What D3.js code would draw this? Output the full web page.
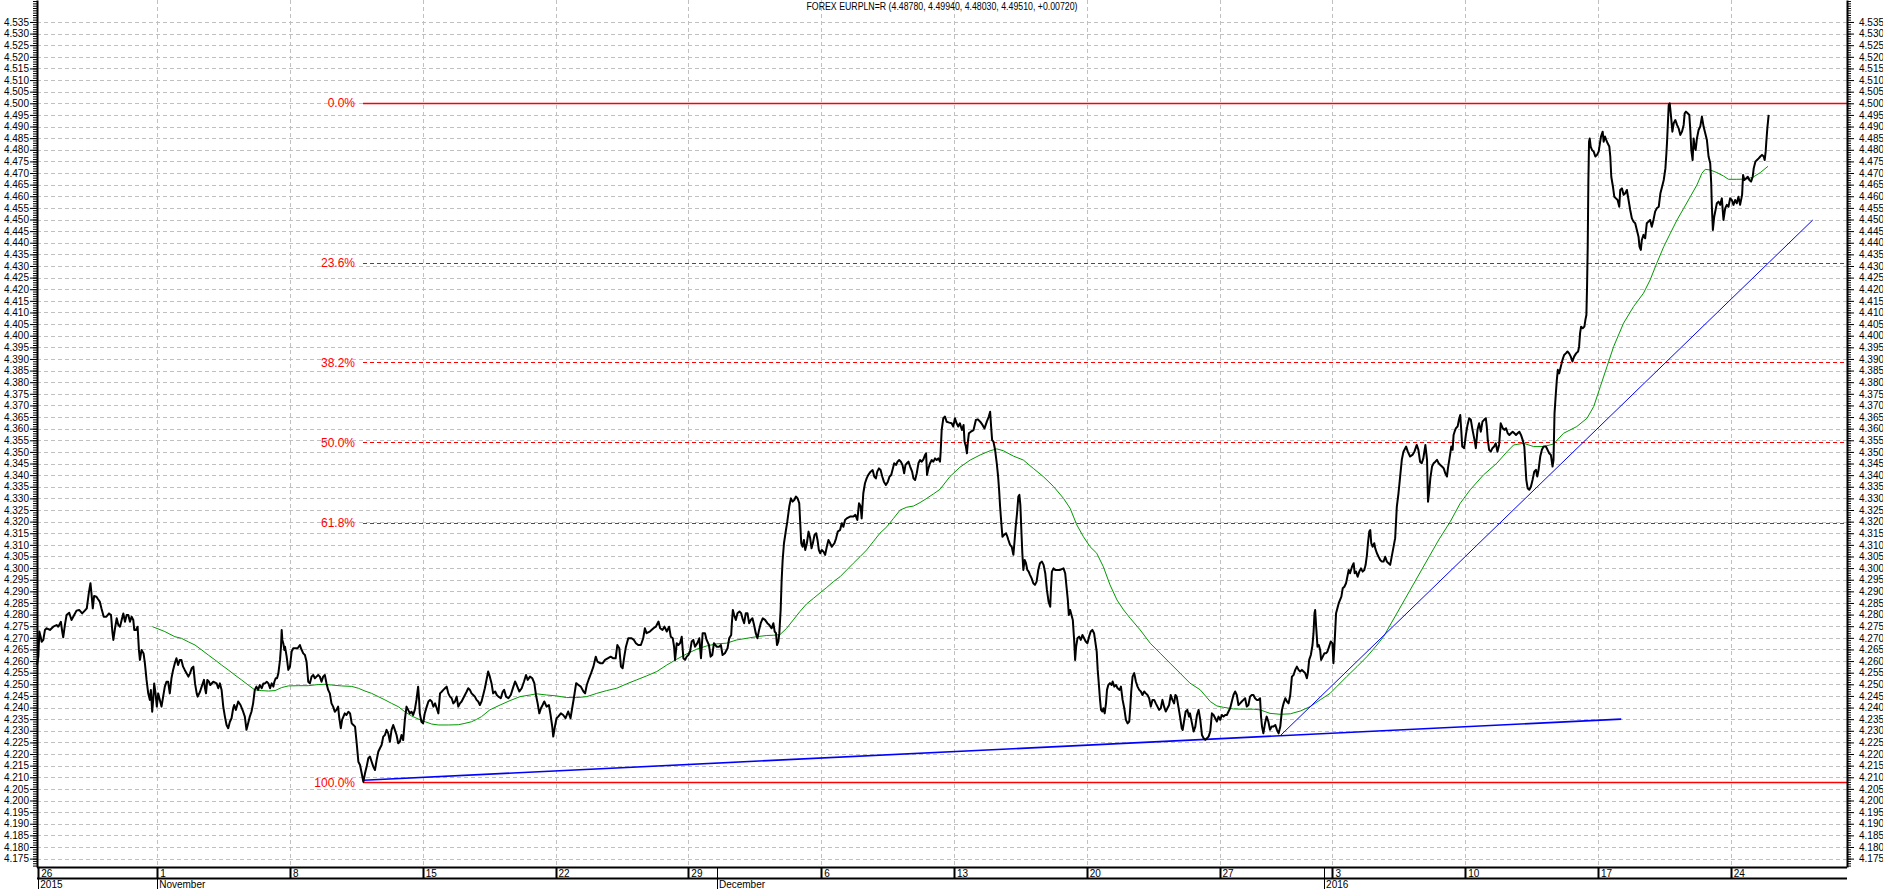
<!DOCTYPE html>
<html>
<head>
<meta charset="utf-8">
<script src="https://cdn.jsdelivr.net/npm/d3@7"></script>
<style>
  body { margin: 0; background: #fff; }
  svg { display: block; }
  text { font-family: Arial, "Liberation Sans", sans-serif; }
</style>
</head>
<body>
<div id="chart"></div>
<script>
// x values are in 1/8-day trading bars, 0 = week boundary of 1 Nov 2015

var titleText = "FOREX EURPLN=R (4.48780, 4.49940, 4.48030, 4.49510, +0.00720)";

// date axis
var dayTicks  = [-35.8, 0, 40, 80, 120, 160, 200, 240, 280, 320, 354, 394, 434, 474];
var dayLabels = ["26", "1", "8", "15", "22", "29", "6", "13", "20", "27", "3", "10", "17", "24"];
var monthTicks  = [-35.8, 0, 168.6, 351.5];
var monthLabels = ["2015", "November", "December", "2016"];

// price axis
var yMajor = d3.range(4175, 4536, 5).map(function(d) { return d / 1000; });
var yMinor = d3.range(4172, 4545, 1).map(function(d) { return d / 1000; });

// fibonacci retracement
var fibHigh = 4.5003, fibLow = 4.2078, fibStart = 62.0;
var fibRatios = [0, 0.236, 0.382, 0.5, 0.618, 1];
var fibLabels = ["0.0%", "23.6%", "38.2%", "50.0%", "61.8%", "100.0%"];

// blue trend lines [bar, value] -> [bar, value]
var trendLow   = [[62.1, 4.2087], [441.0, 4.2350]];
var trendSteep = [[338.3, 4.2279], [498.7, 4.4498]];

// EURPLN close
var priceData = [
 [-36.2,4.2583],[-35.8,4.2619],[-35.5,4.2727],[-35.1,4.2705],[-34.8,4.2683],[-34.3,4.2691],[-33.8,4.2734],[-33.3,4.2741],[-32.3,4.2734],[-31.3,4.2748],
 [-30.3,4.2755],[-29.8,4.2748],[-29.0,4.2769],[-28.6,4.2727],[-28.3,4.2702],[-27.8,4.2755],[-27.3,4.2798],[-26.5,4.2808],[-25.8,4.2777],[-25.0,4.2798],
 [-24.3,4.2817],[-23.5,4.2820],[-22.6,4.2805],[-21.8,4.2817],[-21.2,4.2827],[-20.6,4.2892],[-20.1,4.2935],[-19.8,4.2892],[-19.4,4.2827],[-19.0,4.2880],
 [-18.3,4.2877],[-17.8,4.2866],[-17.3,4.2856],[-16.8,4.2827],[-16.1,4.2791],[-15.3,4.2791],[-14.5,4.2805],[-13.9,4.2798],[-13.5,4.2727],[-13.2,4.2691],
 [-12.7,4.2741],[-12.2,4.2784],[-11.7,4.2755],[-11.2,4.2748],[-10.7,4.2777],[-10.2,4.2805],[-9.7,4.2769],[-9.2,4.2798],[-8.7,4.2798],[-8.2,4.2769],
 [-7.7,4.2791],[-7.2,4.2777],[-6.9,4.2734],[-6.4,4.2734],[-5.9,4.2748],[-5.5,4.2648],[-5.2,4.2605],[-4.7,4.2648],[-4.1,4.2633],[-3.7,4.2590],
 [-3.2,4.2519],[-2.7,4.2461],[-2.2,4.2433],[-1.9,4.2476],[-1.5,4.2382],[-1.2,4.2433],[-0.9,4.2504],[-0.5,4.2461],[-0.1,4.2404],[0.3,4.2461],
 [0.8,4.2433],[1.3,4.2404],[1.8,4.2447],[2.3,4.2490],[2.8,4.2511],[3.3,4.2511],[3.8,4.2461],[4.3,4.2526],[4.8,4.2562],[5.3,4.2590],
 [5.8,4.2612],[6.3,4.2583],[6.8,4.2605],[7.3,4.2605],[7.8,4.2576],[8.3,4.2562],[9.4,4.2533],[9.9,4.2547],[10.4,4.2569],[10.9,4.2576],
 [11.4,4.2504],[11.9,4.2461],[12.2,4.2447],[12.9,4.2468],[13.4,4.2490],[14.1,4.2519],[14.4,4.2483],[14.7,4.2461],[15.1,4.2519],[15.6,4.2511],
 [16.0,4.2497],[16.9,4.2511],[17.9,4.2504],[18.4,4.2483],[18.9,4.2504],[19.4,4.2476],[19.9,4.2404],[20.4,4.2361],[20.9,4.2325],[21.4,4.2311],
 [21.9,4.2339],[22.4,4.2354],[22.9,4.2397],[23.2,4.2411],[23.7,4.2390],[24.4,4.2426],[25.1,4.2411],[25.9,4.2382],[26.4,4.2361],[26.9,4.2304],
 [27.4,4.2332],[27.9,4.2361],[28.4,4.2382],[28.9,4.2418],[29.4,4.2476],[29.9,4.2490],[30.4,4.2476],[30.9,4.2497],[31.5,4.2483],[32.0,4.2504],
 [32.5,4.2504],[33.0,4.2511],[33.5,4.2504],[34.0,4.2483],[34.5,4.2504],[35.0,4.2490],[35.3,4.2511],[35.7,4.2526],[36.1,4.2526],[36.5,4.2547],
 [37.0,4.2605],[37.3,4.2662],[37.5,4.2734],[37.7,4.2691],[38.0,4.2676],[38.3,4.2648],[38.5,4.2662],[39.0,4.2619],[39.5,4.2562],[40.0,4.2576],
 [40.5,4.2641],[41.0,4.2655],[41.7,4.2655],[42.3,4.2655],[43.0,4.2669],[43.3,4.2655],[44.0,4.2633],[44.5,4.2626],[45.0,4.2597],[45.5,4.2511],
 [46.0,4.2504],[46.5,4.2533],[47.0,4.2540],[47.5,4.2526],[48.0,4.2533],[48.5,4.2540],[49.0,4.2533],[49.5,4.2511],[50.0,4.2533],[50.5,4.2540],
 [51.0,4.2504],[51.5,4.2476],[52.0,4.2461],[52.5,4.2418],[53.0,4.2404],[53.5,4.2382],[54.0,4.2390],[54.5,4.2404],[54.8,4.2361],[55.3,4.2311],
 [55.7,4.2347],[56.1,4.2361],[56.5,4.2375],[57.0,4.2368],[57.6,4.2382],[58.1,4.2375],[58.6,4.2332],[59.1,4.2325],[59.6,4.2318],[60.1,4.2246],
 [60.6,4.2167],[61.1,4.2153],[61.6,4.2117],[62.1,4.2080],[62.6,4.2117],[63.1,4.2146],[63.6,4.2182],[64.1,4.2189],[64.6,4.2167],[65.1,4.2146],
 [65.6,4.2131],[66.1,4.2174],[66.6,4.2210],[67.1,4.2225],[67.6,4.2239],[68.1,4.2275],[68.6,4.2282],[69.1,4.2304],[69.6,4.2289],[70.1,4.2253],
 [70.6,4.2304],[71.1,4.2325],[71.6,4.2304],[72.1,4.2282],[72.6,4.2246],[73.1,4.2253],[73.6,4.2282],[74.1,4.2260],[74.6,4.2347],[75.1,4.2404],
 [75.6,4.2390],[76.1,4.2375],[76.6,4.2382],[77.1,4.2368],[77.6,4.2390],[78.1,4.2433],[78.6,4.2490],[78.9,4.2433],[79.1,4.2375],[79.6,4.2339],
 [80.1,4.2332],[80.6,4.2375],[81.2,4.2404],[81.7,4.2426],[82.2,4.2433],[82.7,4.2426],[83.2,4.2404],[83.7,4.2418],[84.2,4.2397],[84.7,4.2375],
 [85.2,4.2461],[85.7,4.2468],[86.2,4.2476],[86.7,4.2483],[87.2,4.2490],[87.7,4.2461],[88.2,4.2447],[88.7,4.2440],[89.2,4.2418],[89.7,4.2426],
 [90.2,4.2447],[90.7,4.2404],[91.2,4.2418],[91.7,4.2426],[92.2,4.2440],[92.7,4.2454],[93.2,4.2468],[93.7,4.2483],[94.2,4.2476],[94.7,4.2461],
 [95.2,4.2454],[95.7,4.2447],[96.2,4.2433],[96.7,4.2426],[97.2,4.2411],[97.7,4.2426],[98.2,4.2454],[98.7,4.2483],
 [99.7,4.2555],[100.2,4.2533],[100.7,4.2505],[101.2,4.2461],[101.8,4.2469],[102.3,4.2454],[102.8,4.2447],[103.5,4.2440],[104.1,4.2469],[104.5,4.2476],
 [105.1,4.2447],[105.8,4.2440],[106.5,4.2454],[107.3,4.2490],[107.8,4.2512],[108.3,4.2497],[109.1,4.2469],[109.8,4.2483],[110.5,4.2512],[111.1,4.2540],
 [111.6,4.2519],[112.3,4.2533],[113.0,4.2526],[113.6,4.2505],[114.1,4.2454],[114.6,4.2418],[115.1,4.2375],[115.6,4.2397],[116.1,4.2411],[116.6,4.2426],
 [117.3,4.2404],[118.0,4.2411],[118.5,4.2368],[119.0,4.2318],[119.3,4.2275],[119.8,4.2318],[120.3,4.2354],[120.8,4.2361],[121.6,4.2375],[122.3,4.2368],
 [123.0,4.2354],[123.8,4.2383],[124.5,4.2354],[125.0,4.2397],[125.5,4.2440],[126.2,4.2505],[126.9,4.2497],[127.6,4.2490],[128.4,4.2469],[128.9,4.2461],
 [129.4,4.2497],[130.1,4.2526],[130.7,4.2548],[131.4,4.2576],[132.1,4.2619],[132.6,4.2598],[133.4,4.2591],[134.2,4.2591],[134.9,4.2605],[135.7,4.2612],
 [136.6,4.2619],[137.4,4.2612],[138.1,4.2612],[138.6,4.2669],[139.2,4.2655],[139.7,4.2576],[140.2,4.2569],[140.7,4.2619],[141.2,4.2662],[141.9,4.2698],
 [142.9,4.2698],[143.6,4.2691],[144.2,4.2677],[144.9,4.2669],[145.7,4.2669],[146.4,4.2698],[146.9,4.2741],[147.4,4.2720],[148.4,4.2727],[149.5,4.2741],
 [150.2,4.2748],[151.0,4.2770],[151.5,4.2741],[152.2,4.2734],[152.8,4.2748],[153.5,4.2727],[154.2,4.2748],[154.7,4.2705],[155.3,4.2698],[155.7,4.2662],
 [156.0,4.2605],[156.5,4.2677],[157.0,4.2669],[157.5,4.2677],[158.0,4.2705],[158.5,4.2612],[159.0,4.2605],[159.5,4.2619],[160.0,4.2626],[160.5,4.2641],
 [161.0,4.2684],[161.5,4.2691],[162.0,4.2662],[162.7,4.2677],[163.3,4.2698],[163.8,4.2612],[164.3,4.2720],[165.0,4.2720],[165.5,4.2691],[166.2,4.2669],
 [166.7,4.2619],[167.2,4.2626],[167.7,4.2677],[168.5,4.2662],[169.3,4.2662],[169.8,4.2669],[170.3,4.2626],[171.0,4.2634],[171.8,4.2655],[172.3,4.2698],
 [172.9,4.2712],[173.1,4.2763],[173.4,4.2820],[173.8,4.2798],[174.3,4.2777],[174.8,4.2806],[175.4,4.2813],[175.9,4.2806],[176.3,4.2784],[176.8,4.2763],
 [177.3,4.2806],[177.8,4.2806],[178.3,4.2763],[178.8,4.2777],[179.3,4.2784],[179.8,4.2755],[180.3,4.2720],[180.8,4.2698],[181.3,4.2734],[181.8,4.2763],
 [182.4,4.2784],[183.1,4.2777],[183.8,4.2763],[184.4,4.2755],[185.1,4.2741],[185.6,4.2763],[186.0,4.2727],[186.4,4.2720],[186.7,4.2669],[187.1,4.2684],
 [187.4,4.2720],[187.8,4.2820],[188.1,4.2949],[188.4,4.3035],[188.8,4.3107],[189.4,4.3164],[189.8,4.3200],[190.4,4.3265],[190.9,4.3300],[191.4,4.3286],
 [191.9,4.3293],[192.4,4.3308],[192.9,4.3300],[193.4,4.3279],[193.7,4.3193],[194.0,4.3107],[194.4,4.3092],[194.8,4.3121],[195.2,4.3078],[195.7,4.3107],
 [196.2,4.3157],[196.7,4.3128],[197.1,4.3085],[197.5,4.3107],[198.0,4.3143],[198.5,4.3150],[198.9,4.3121],[199.3,4.3078],[199.7,4.3064],[200.2,4.3078],
 [200.7,4.3071],[201.2,4.3057],[201.7,4.3092],[202.2,4.3121],[202.7,4.3107],[203.2,4.3092],[204.0,4.3107],[204.5,4.3128],[205.0,4.3157],[205.7,4.3164],
 [206.2,4.3193],[206.7,4.3178],[207.2,4.3207],[207.7,4.3214],[208.7,4.3222],[209.7,4.3222],[210.3,4.3229],[210.9,4.3207],[211.4,4.3279],[211.9,4.3265],
 [212.2,4.3214],[212.7,4.3322],[213.2,4.3365],[213.7,4.3386],[214.2,4.3401],[214.9,4.3415],[215.5,4.3422],[216.0,4.3394],[216.5,4.3386],[216.9,4.3415],
 [217.4,4.3429],[217.9,4.3422],[218.4,4.3394],[218.9,4.3372],[219.5,4.3358],[220.1,4.3372],[220.6,4.3394],[221.1,4.3401],[221.6,4.3429],[222.0,4.3451],
 [222.6,4.3444],[223.0,4.3458],[223.5,4.3465],[224.0,4.3458],[224.5,4.3444],[225.0,4.3408],[225.4,4.3444],[225.8,4.3451],[226.3,4.3458],[226.8,4.3437],
 [227.4,4.3415],[227.8,4.3386],[228.3,4.3379],[228.8,4.3408],[229.3,4.3451],[229.8,4.3465],[230.3,4.3458],[230.8,4.3468],[231.3,4.3487],[231.6,4.3494],
 [231.9,4.3401],[232.3,4.3429],[232.8,4.3451],[233.3,4.3465],[233.8,4.3458],[234.3,4.3472],[234.8,4.3465],[235.3,4.3472],[235.8,4.3458],
 [236.0,4.3501],[236.3,4.3594],[236.8,4.3645],[237.3,4.3652],[237.8,4.3630],[238.6,4.3626],[239.3,4.3623],[239.8,4.3609],[240.3,4.3645],[240.8,4.3623],
 [241.3,4.3609],[241.8,4.3623],[242.4,4.3594],[242.9,4.3616],[243.2,4.3544],[243.6,4.3523],[243.9,4.3494],[244.2,4.3544],[244.5,4.3580],[245.1,4.3587],
 [245.9,4.3594],[246.6,4.3637],[247.2,4.3640],[247.9,4.3630],[248.6,4.3616],[249.2,4.3601],[249.9,4.3630],[250.5,4.3652],[250.9,4.3673],[251.2,4.3609],
 [251.5,4.3551],[251.9,4.3544],[252.4,4.3508],[252.9,4.3451],[253.3,4.3394],[253.6,4.3336],[253.9,4.3265],[254.2,4.3207],[254.6,4.3135],[255.1,4.3143],
 [255.7,4.3150],[256.1,4.3135],[256.4,4.3121],[256.9,4.3100],[257.4,4.3092],[257.9,4.3057],[258.2,4.3107],[258.6,4.3178],[259.0,4.3236],[259.4,4.3308],
 [259.7,4.3315],[260.0,4.3272],[260.3,4.3164],[260.6,4.3064],[260.9,4.2992],[261.3,4.3035],[261.7,4.3021],[262.1,4.2992],[262.5,4.2985],[262.9,4.2971],
 [263.4,4.2956],[263.9,4.2935],[264.4,4.2928],[264.9,4.2942],[265.4,4.2992],[265.9,4.3021],[266.5,4.3028],[267.0,4.3014],[267.5,4.2978],[268.0,4.2906],
 [268.5,4.2856],[269.0,4.2834],[269.2,4.2906],[269.5,4.2985],[270.0,4.2999],[270.5,4.2992],[271.0,4.2992],[272.0,4.2992],[273.0,4.2999],[273.5,4.2978],
 [274.0,4.2906],[274.3,4.2863],[274.6,4.2798],[275.0,4.2820],[275.4,4.2798],[275.8,4.2777],[276.2,4.2691],[276.5,4.2605],[276.8,4.2662],[277.2,4.2698],
 [277.7,4.2705],[278.2,4.2691],[278.7,4.2712],[279.2,4.2698],[279.7,4.2684],[280.2,4.2677],[280.7,4.2705],[281.2,4.2727],[281.7,4.2734],[282.2,4.2720],
 [282.5,4.2691],[283.0,4.2641],[283.3,4.2562],[283.7,4.2490],[284.0,4.2433],[284.3,4.2390],[284.7,4.2383],[285.0,4.2397],[285.4,4.2375],[285.8,4.2418],
 [286.1,4.2476],[286.5,4.2497],[287.0,4.2505],[287.5,4.2497],[287.8,4.2512],[288.3,4.2490],[288.8,4.2497],[289.3,4.2483],[289.9,4.2476],[290.3,4.2490],
 [290.8,4.2433],[291.3,4.2397],[291.8,4.2347],[292.3,4.2332],[292.8,4.2340],[293.1,4.2397],[293.4,4.2469],[293.8,4.2533],[294.3,4.2548],[294.8,4.2512],
 [295.3,4.2490],[295.8,4.2476],[296.3,4.2469],[296.8,4.2454],[297.3,4.2469],[297.8,4.2461],[298.3,4.2454],[298.8,4.2440],[299.3,4.2404],[299.8,4.2433],
 [300.3,4.2433],[300.8,4.2418],[301.3,4.2404],[301.8,4.2390],[302.3,4.2397],[302.8,4.2433],[303.3,4.2404],[303.8,4.2383],[304.3,4.2397],[304.8,4.2411],
 [305.3,4.2454],[305.8,4.2433],[306.3,4.2418],[306.7,4.2454],[307.1,4.2447],[307.6,4.2404],[308.1,4.2361],[308.6,4.2311],[308.9,4.2304],[309.3,4.2340],
 [309.8,4.2383],[310.3,4.2390],[310.8,4.2361],[311.1,4.2375],[311.7,4.2332],[312.2,4.2297],[312.7,4.2318],[313.2,4.2368],[313.7,4.2390],[314.2,4.2347],
 [314.7,4.2282],[315.2,4.2268],[315.7,4.2261],[316.2,4.2268],[316.7,4.2275],[317.2,4.2297],[317.7,4.2375],[318.2,4.2368],[318.7,4.2354],[319.2,4.2340],
 [319.7,4.2361],[320.2,4.2347],[320.7,4.2368],[321.2,4.2361],[321.7,4.2368],[322.2,4.2368],[322.7,4.2383],[323.2,4.2397],[323.7,4.2426],[324.2,4.2454],
 [324.7,4.2469],[325.2,4.2454],[325.7,4.2411],[326.2,4.2418],[326.7,4.2426],[327.2,4.2433],[327.7,4.2440],[328.2,4.2404],[328.7,4.2411],[329.2,4.2447],
 [329.7,4.2454],[330.2,4.2454],[330.7,4.2440],[331.2,4.2433],[331.7,4.2433],[332.2,4.2440],[332.5,4.2361],[332.8,4.2318],[333.2,4.2289],[333.7,4.2332],
 [334.2,4.2361],[334.7,4.2340],[335.2,4.2304],[335.7,4.2318],[336.2,4.2318],[336.8,4.2325],[337.3,4.2304],[337.8,4.2289],[338.3,4.2318],[338.8,4.2390],
 [339.3,4.2418],[339.8,4.2440],[340.3,4.2426],[340.8,4.2418],[341.3,4.2454],[341.8,4.2533],[342.3,4.2540],[342.8,4.2562],[343.3,4.2576],[343.8,4.2562],
 [344.3,4.2555],[344.8,4.2562],[345.3,4.2555],[345.8,4.2548],[346.3,4.2526],[346.6,4.2548],[347.0,4.2605],[347.5,4.2626],[348.0,4.2669],[348.3,4.2720],
 [348.6,4.2806],[348.8,4.2820],[349.1,4.2748],[349.5,4.2662],[349.9,4.2669],[350.3,4.2648],[350.6,4.2605],[351.1,4.2619],[351.6,4.2634],[352.1,4.2634],
 [352.5,4.2641],[353.0,4.2662],[353.5,4.2684],[354.0,4.2677],[354.3,4.2591],[354.6,4.2662],[354.8,4.2720],[355.1,4.2806],[355.5,4.2827],[355.9,4.2849],
 [356.3,4.2863],[356.7,4.2877],[357.1,4.2913],[357.6,4.2920],[358.1,4.2935],[358.5,4.2963],[358.9,4.2992],[359.3,4.2978],[359.9,4.3006],[360.4,4.3021],
 [360.7,4.2978],[361.1,4.2985],[361.6,4.2963],[362.1,4.2985],[362.6,4.2999],[363.1,4.2985],[363.6,4.2992],[364.0,4.3014],[364.4,4.3057],[364.7,4.3107],
 [365.1,4.3157],[365.4,4.3164],[365.7,4.3107],[366.1,4.3092],[366.6,4.3107],[366.9,4.3085],[367.4,4.3064],[367.9,4.3049],[368.4,4.3035],[368.9,4.3028],
 [369.4,4.3028],[369.9,4.3049],[370.4,4.3028],[370.9,4.3021],[371.4,4.3014],
 [372.9,4.3129],[373.4,4.3265],[373.9,4.3322],[374.4,4.3394],[374.9,4.3466],[375.4,4.3501],[376.2,4.3523],[376.7,4.3501],[377.4,4.3480],[378.1,4.3487],
 [378.7,4.3501],[379.4,4.3530],[379.9,4.3509],[380.4,4.3458],[380.9,4.3451],[381.4,4.3473],[382.0,4.3530],[382.5,4.3466],[382.8,4.3286],[383.2,4.3337],
 [383.5,4.3387],[384.0,4.3437],[384.5,4.3451],[385.0,4.3458],[385.5,4.3466],[386.0,4.3451],[386.5,4.3444],[387.0,4.3437],[387.5,4.3430],[388.0,4.3408],
 [388.5,4.3394],[388.8,4.3430],[389.2,4.3466],[389.5,4.3494],[389.8,4.3523],[390.2,4.3509],[390.5,4.3573],[390.8,4.3587],[391.2,4.3602],[391.7,4.3609],
 [392.1,4.3638],[392.5,4.3659],[392.8,4.3595],[393.1,4.3523],[393.7,4.3516],[394.2,4.3573],[394.7,4.3616],[395.2,4.3645],[395.7,4.3638],[396.2,4.3595],
 [396.8,4.3552],[397.2,4.3516],[397.7,4.3595],[398.2,4.3623],[398.7,4.3587],[399.2,4.3630],[399.7,4.3638],[400.2,4.3645],[400.5,4.3609],[400.8,4.3552],
 [401.2,4.3509],[401.7,4.3501],[402.2,4.3516],[402.7,4.3523],[403.2,4.3537],[403.7,4.3501],[404.2,4.3530],[404.7,4.3623],[405.3,4.3602],[405.8,4.3595],
 [406.3,4.3602],[406.8,4.3580],[407.3,4.3573],[407.8,4.3580],[408.3,4.3587],[408.8,4.3580],[409.3,4.3573],[409.8,4.3580],[410.3,4.3587],[410.8,4.3573],
 [411.3,4.3552],[411.8,4.3523],[412.1,4.3451],[412.4,4.3380],[412.8,4.3344],[413.3,4.3337],[413.8,4.3351],[414.3,4.3380],[414.8,4.3415],[415.3,4.3423],
 [415.7,4.3394],[416.1,4.3423],[416.6,4.3480],[417.1,4.3509],[417.6,4.3523],[418.3,4.3523],[418.8,4.3509],[419.3,4.3494],[419.8,4.3487],[420.3,4.3437],
 [420.6,4.3466],[420.9,4.3666],[421.3,4.3752],[421.6,4.3810],[421.9,4.3853],[422.3,4.3838],[422.8,4.3867],[423.3,4.3896],[423.8,4.3917],[424.3,4.3924],
 [424.8,4.3932],[425.3,4.3924],[425.8,4.3910],[426.3,4.3889],[426.8,4.3910],[427.4,4.3924],[428.0,4.3932],[428.3,4.3953],[428.6,4.4011],[428.9,4.4039],
 [429.4,4.4032],[429.9,4.4039],[430.2,4.4068],[430.5,4.4089],[430.7,4.4211],[430.9,4.4383],[431.1,4.4670],[431.3,4.4835],[431.5,4.4849],[431.8,4.4814],
 [432.2,4.4799],[432.7,4.4792],[433.2,4.4771],[433.7,4.4778],[434.2,4.4792],[434.5,4.4821],[434.9,4.4857],[435.4,4.4878],[435.7,4.4835],[436.1,4.4857],
 [436.5,4.4842],[436.9,4.4828],[437.4,4.4814],[437.7,4.4771],[438.0,4.4684],[438.5,4.4641],[438.9,4.4598],[439.4,4.4591],[439.9,4.4584],[440.4,4.4555],
 [440.7,4.4627],[441.2,4.4634],[441.7,4.4606],[442.2,4.4613],[442.7,4.4627],[443.2,4.4584],[443.7,4.4541],[444.2,4.4505],[444.7,4.4491],[445.2,4.4484],
 [445.7,4.4455],[446.2,4.4426],[446.5,4.4383],[446.9,4.4369],[447.2,4.4412],[447.7,4.4434],[448.2,4.4419],[448.7,4.4484],[449.2,4.4491],[449.7,4.4498],
 [450.2,4.4469],[450.7,4.4498],[451.2,4.4534],[451.7,4.4548],[452.3,4.4555],[452.8,4.4613],[453.3,4.4641],[453.8,4.4670],[454.3,4.4720],[454.6,4.4785],
 [454.8,4.4835],[455.0,4.4900],[455.3,4.4993],[455.6,4.5000],[456.0,4.4943],[456.4,4.4878],[456.8,4.4914],[457.3,4.4928],[457.8,4.4907],[458.3,4.4892],
 [458.8,4.4864],[459.3,4.4878],[459.8,4.4907],[460.1,4.4957],[460.5,4.4964],[461.0,4.4957],[461.5,4.4950],[461.8,4.4885],[462.1,4.4799],[462.5,4.4756],
 [462.8,4.4849],[463.1,4.4814],[463.4,4.4799],[463.8,4.4849],[464.3,4.4885],[464.8,4.4900],[465.3,4.4943],[465.8,4.4900],[466.3,4.4871],[466.8,4.4842],
 [467.3,4.4771],[467.8,4.4742],[468.1,4.4656],[468.3,4.4555],[468.6,4.4455],[469.0,4.4512],[469.4,4.4541],[469.8,4.4570],[470.3,4.4577],[470.8,4.4563],
 [471.3,4.4591],[471.6,4.4534],[471.8,4.4498],[472.3,4.4548],[472.8,4.4563],[473.3,4.4555],[473.8,4.4591],[474.3,4.4584],[474.8,4.4563],[475.3,4.4584],
 [475.8,4.4570],[476.3,4.4598],[476.8,4.4563],[477.4,4.4606],[477.7,4.4692],[478.1,4.4670],[478.6,4.4677],[479.1,4.4684],[479.6,4.4670],[480.1,4.4663],
 [480.6,4.4684],[480.9,4.4720],[481.4,4.4749],[481.9,4.4756],[482.4,4.4763],[482.9,4.4771],[483.4,4.4778],[483.9,4.4771],[484.2,4.4756],[484.5,4.4792],
 [484.7,4.4835],[485.0,4.4892],[485.4,4.4950]
];

// moving average (green)
var maData = [
 [-1.4,4.2748],[2.3,4.2727],[5.3,4.2705],[7.3,4.2698],[9.35,4.2683],[11.4,4.2669],[13.4,4.2648],[15.4,4.2626],[17.4,4.2605],[19.4,4.2583],
 [21.4,4.2562],[23.4,4.2540],[25.4,4.2519],[27.4,4.2497],[29.4,4.2476],[31.4,4.2473],[33.5,4.2471],[35.5,4.2473],[37.5,4.2486],[39.5,4.2493],
 [42.5,4.2494],[45.5,4.2494],[48.5,4.2499],[50.5,4.2500],[52.5,4.2497],[55.5,4.2493],[58.6,4.2491],[60.6,4.2483],[62.6,4.2471],[64.6,4.2461],
 [66.6,4.2447],[68.6,4.2433],[70.6,4.2418],[72.6,4.2404],[74.6,4.2382],[76.6,4.2364],[78.6,4.2351],[80.7,4.2339],[82.7,4.2329],[84.7,4.2325],
 [87.7,4.2325],[90.7,4.2326],[92.7,4.2332],[94.7,4.2339],[96.2,4.2349],[97.7,4.2361],[100.2,4.2390],[103.3,4.2411],[106.3,4.2430],[109.3,4.2447],
 [112.3,4.2454],[114.3,4.2459],[117.3,4.2454],[120.3,4.2450],[123.3,4.2443],[126.4,4.2443],[129.4,4.2447],[132.4,4.2461],[135.4,4.2473],[138.4,4.2483],
 [141.4,4.2502],[144.4,4.2519],[147.4,4.2536],[150.5,4.2555],[153.5,4.2583],[156.5,4.2608],[159.5,4.2631],[162.5,4.2651],[165.5,4.2665],[168.5,4.2674],
 [171.5,4.2677],[174.6,4.2691],[177.6,4.2698],[180.6,4.2705],[183.6,4.2710],[185.6,4.2711],[187.6,4.2714],[189.6,4.2741],[191.6,4.2777],[193.6,4.2813],
 [195.6,4.2846],[197.7,4.2870],[199.7,4.2894],[201.7,4.2917],[203.7,4.2942],[205.7,4.2963],[207.7,4.2992],[209.7,4.3021],[211.7,4.3049],[213.7,4.3078],
 [215.7,4.3114],[217.7,4.3150],[219.8,4.3178],[221.8,4.3214],[223.8,4.3250],[225.8,4.3262],[227.8,4.3267],[229.8,4.3282],[231.8,4.3300],[233.8,4.3319],
 [235.8,4.3339],[238.8,4.3394],[241.8,4.3434],[244.9,4.3465],[247.9,4.3487],[250.9,4.3505],[252.9,4.3513],[254.9,4.3505],[257.9,4.3482],[260.9,4.3465],
 [263.9,4.3429],[266.9,4.3394],[270.0,4.3351],[273.0,4.3300],[275.0,4.3257],[277.0,4.3186],[279.0,4.3135],[281.0,4.3092],[283.0,4.3064],[285.0,4.3006],
 [287.0,4.2928],[289.1,4.2863],[291.1,4.2820],[293.1,4.2784],[296.1,4.2734],[299.1,4.2677],[302.1,4.2634],[305.1,4.2591],[308.1,4.2548],[311.1,4.2505],
 [314.2,4.2476],[317.2,4.2426],[319.2,4.2407],[321.2,4.2401],[324.2,4.2394],[327.2,4.2393],[330.2,4.2393],[332.2,4.2390],[335.2,4.2375],[338.3,4.2371],
 [341.3,4.2373],[344.3,4.2385],[347.3,4.2404],[350.3,4.2433],[353.3,4.2461],[355.3,4.2490],[358.3,4.2533],[361.4,4.2576],[364.4,4.2619],[367.4,4.2669],
 [369.4,4.2705],[371.4,4.2755],[386.0,4.3121],[389.5,4.3200],[392.5,4.3279],[395.5,4.3337],[399.5,4.3401],[403.5,4.3451],[406.6,4.3501],[408.6,4.3530],
 [411.6,4.3537],[414.6,4.3523],[417.6,4.3523],[420.6,4.3534],[423.6,4.3580],[427.6,4.3609],[430.7,4.3645],[432.7,4.3695],[434.7,4.3781],[436.7,4.3867],
 [438.7,4.3953],[441.7,4.4054],[444.7,4.4125],[447.7,4.4183],[449.7,4.4240],[451.7,4.4312],[453.8,4.4383],[455.8,4.4441],[457.8,4.4498],[459.8,4.4548],
 [461.8,4.4598],[463.8,4.4649],[465.3,4.4699],[466.3,4.4716],[467.8,4.4713],[469.8,4.4702],[471.8,4.4687],[473.3,4.4673],[475.8,4.4673],[478.9,4.4674],
 [480.9,4.4684],[482.9,4.4702],[485.2,4.4729]
];

//dimensions
var width = 1883, height = 889;
var plot = {left: 37, right: 1847, top: 0, bottom: 867};
var rowMid = 878;

var svg = d3.select("#chart").append("svg")
  .attr("width", width)
  .attr("height", height);

//scales
var x = d3.scaleLinear()
  .domain([-36.2, 509])
  .range([plot.left, plot.right]);
var y = d3.scaleLinear()
  .domain([4.17139, 4.54445])
  .range([plot.bottom, plot.top]);

var crisp = function(v) { return Math.round(v) + 0.5; };

//horizontal grid
svg.append("g")
  .selectAll("line")
  .data(yMajor)
  .enter()
  .append("line")
    .attr("x1", plot.left)
    .attr("x2", plot.right)
    .attr("y1", function(d) { return crisp(y(d)); })
    .attr("y2", function(d) { return crisp(y(d)); })
    .attr("stroke", "#c0c0c0")
    .attr("stroke-dasharray", "4,3");

//vertical grid at day ticks
svg.append("g")
  .selectAll("line")
  .data(dayTicks.slice(1))
  .enter()
  .append("line")
    .attr("x1", function(d) { return crisp(x(d)); })
    .attr("x2", function(d) { return crisp(x(d)); })
    .attr("y1", plot.top)
    .attr("y2", plot.bottom)
    .attr("stroke", "#c0c0c0")
    .attr("stroke-dasharray", "4,3");

//fibonacci levels
var fib = fibRatios.map(function(r, i) {
  return {r: r, v: fibHigh - r * (fibHigh - fibLow), label: fibLabels[i]};
});
var fibG = svg.append("g");
fibG.selectAll("line")
  .data(fib)
  .enter()
  .append("line")
    .attr("x1", x(fibStart))
    .attr("x2", plot.right)
    .attr("y1", function(d) { return crisp(y(d.v)); })
    .attr("y2", function(d) { return crisp(y(d.v)); })
    .attr("stroke", "#ff0000")
    .attr("stroke-width", function(d) { return (d.r === 0 || d.r === 1) ? 1.3 : 1; })
    .attr("stroke-dasharray", function(d) { return (d.r === 0 || d.r === 1) ? null : "4,3"; });
fibG.selectAll("text")
  .data(fib)
  .enter()
  .append("text")
    .attr("x", x(fibStart) - 8)
    .attr("y", function(d) { return y(d.v); })
    .attr("dy", "0.36em")
    .attr("text-anchor", "end")
    .attr("font-size", "12px")
    .attr("fill", "#ff0000")
    .text(function(d) { return d.label; });

var line = d3.line()
  .x(function(d) { return x(d[0]); })
  .y(function(d) { return y(d[1]); });

//moving average
svg.append("path")
  .datum(maData)
  .attr("d", line)
  .attr("fill", "none")
  .attr("stroke", "#009900")
  .attr("stroke-width", 1);

//trend lines
svg.append("path")
  .datum(trendLow)
  .attr("d", line)
  .attr("fill", "none")
  .attr("stroke", "#0000ff")
  .attr("stroke-width", 1.6);
svg.append("path")
  .datum(trendSteep)
  .attr("d", line)
  .attr("fill", "none")
  .attr("stroke", "#0000ff")
  .attr("stroke-width", 1);

//price
svg.append("path")
  .datum(priceData)
  .attr("d", line)
  .attr("fill", "none")
  .attr("stroke", "#000")
  .attr("stroke-width", 2)
  .attr("stroke-linejoin", "round");

//price axes, left and right
var fmt = d3.format(".3f");
function styleAxis(g) {
  g.attr("font-family", "Arial, 'Liberation Sans', sans-serif")
   .attr("font-size", "10px");
  g.selectAll("line").attr("stroke", "#000");
  g.selectAll("text").attr("fill", "#000");
}
svg.append("g")
  .attr("transform", "translate(" + plot.left + ",0)")
  .call(d3.axisLeft(y).tickValues(yMinor).tickSize(4).tickSizeOuter(0).tickFormat(""))
  .call(function(g) { g.select(".domain").remove(); })
  .call(styleAxis);
svg.append("g")
  .attr("transform", "translate(" + plot.left + ",0)")
  .call(d3.axisLeft(y).tickValues(yMajor).tickSize(7).tickSizeOuter(0).tickPadding(1).tickFormat(fmt))
  .call(function(g) { g.select(".domain").attr("stroke-width", 2); })
  .call(styleAxis);
svg.append("g")
  .attr("transform", "translate(" + plot.right + ",0)")
  .call(d3.axisRight(y).tickValues(yMinor).tickSize(4).tickSizeOuter(0).tickFormat(""))
  .call(function(g) { g.select(".domain").remove(); })
  .call(styleAxis);
svg.append("g")
  .attr("transform", "translate(" + plot.right + ",0)")
  .call(d3.axisRight(y).tickValues(yMajor).tickSize(7).tickSizeOuter(0).tickPadding(5).tickFormat(fmt))
  .call(function(g) { g.select(".domain").attr("stroke-width", 2); })
  .call(styleAxis);

//date axis rows
var dateG = svg.append("g");
[plot.bottom, rowMid].forEach(function(yy) {
  dateG.append("line")
    .attr("x1", plot.left).attr("x2", plot.right)
    .attr("y1", yy + 0.5).attr("y2", yy + 0.5)
    .attr("stroke", "#000").attr("stroke-width", 2);
});
dateG.selectAll(".dayTick")
  .data(dayTicks)
  .enter()
  .append("line")
    .attr("class", "dayTick")
    .attr("x1", function(d) { return crisp(x(d)); })
    .attr("x2", function(d) { return crisp(x(d)); })
    .attr("y1", plot.bottom)
    .attr("y2", rowMid)
    .attr("stroke", "#000")
    .attr("stroke-width", 2);
dateG.selectAll(".dayLabel")
  .data(dayTicks)
  .enter()
  .append("text")
    .attr("class", "dayLabel")
    .attr("x", function(d) { return x(d) + 3; })
    .attr("y", 877)
    .attr("font-size", "10px")
    .text(function(d, i) { return dayLabels[i]; });
dateG.selectAll(".monthTick")
  .data(monthTicks)
  .enter()
  .append("line")
    .attr("class", "monthTick")
    .attr("x1", function(d) { return crisp(x(d)); })
    .attr("x2", function(d) { return crisp(x(d)); })
    .attr("y1", plot.bottom)
    .attr("y2", height)
    .attr("stroke", "#000")
    .attr("stroke-width", 1);
dateG.selectAll(".monthLabel")
  .data(monthTicks)
  .enter()
  .append("text")
    .attr("class", "monthLabel")
    .attr("x", function(d) { return x(d) + 2; })
    .attr("y", 888)
    .attr("font-size", "10px")
    .text(function(d, i) { return monthLabels[i]; });

//title
svg.append("text")
  .attr("x", 942)
  .attr("y", 10)
  .attr("text-anchor", "middle")
  .attr("font-size", "10px")
  .attr("textLength", 271)
  .attr("lengthAdjust", "spacingAndGlyphs")
  .text(titleText);
</script>
</body>
</html>
